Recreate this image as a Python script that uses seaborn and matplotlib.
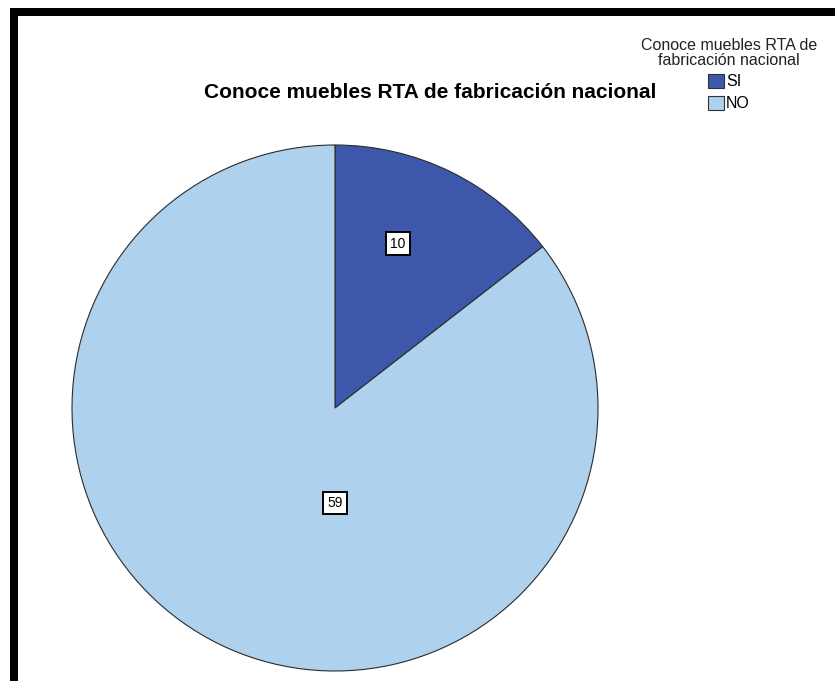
import matplotlib
matplotlib.use("Agg")
import matplotlib.pyplot as plt
import seaborn as sns
from matplotlib.patches import Rectangle, Patch

sns.set_theme(style="white")
plt.rcParams['font.family'] = ['Liberation Sans', 'DejaVu Sans']

categories = ["SI", "NO"]
values = [10, 59]
colors = ["#3D57AB", "#AED1EE"]
title = "Conoce muebles RTA de fabricación nacional"
legend_title = "Conoce muebles RTA de\nfabricación nacional"

W, H = 835, 681
fig = plt.figure(figsize=(W / 100, H / 100), dpi=100)
fig.patch.set_facecolor("white")

cx, cy, r = 335, 408, 263
ax = fig.add_axes([(cx - r) / W, (H - cy - r) / H, 2 * r / W, 2 * r / H])
wedges, _ = ax.pie(values, colors=colors, startangle=90, counterclock=False,
                   radius=1.0,
                   wedgeprops=dict(edgecolor="#2b2b2b", linewidth=0.8))
ax.set_xlim(-1, 1)
ax.set_ylim(-1, 1)
ax.set_aspect("equal")
ax.axis("off")

label_pos = [(0.24, 0.625), (0.0, -0.36)]
for (x, y), v in zip(label_pos, values):
    ax.text(x, y, str(v), ha="center", va="center", fontsize=10, color="black",
            bbox=dict(boxstyle="square,pad=0.3", facecolor="white",
                      edgecolor="black", linewidth=1.4))

fig.text(430 / W, 1 - 93 / H, title, ha="center", va="center",
         fontsize=15, fontweight="bold", color="black")

handles = [Patch(facecolor=c, edgecolor="#333333", linewidth=0.8) for c in colors]
leg = fig.legend(handles, categories, title=legend_title,
                 loc="upper center", bbox_to_anchor=(729 / W, 1 - 30 / H),
                 frameon=False, fontsize=11.5, title_fontsize=11.5,
                 handlelength=0.95, handleheight=1.0, handletextpad=0.15,
                 labelspacing=0.4, borderpad=0.0)
leg._legend_box.align = "center"
leg._legend_box.sep = 4
for t in leg.get_texts():
    t.set_color("black")
leg.get_title().set_color("#222222")
leg.get_title().set_multialignment("center")
leg.get_title().set_linespacing(1.0)

# black frame on left and top
fig.patches.append(Rectangle((10 / W, 0), 8 / W, 1 - 8 / H, transform=fig.transFigure,
                             facecolor="black", edgecolor="none", zorder=10))
fig.patches.append(Rectangle((10 / W, 1 - 16 / H), 1 - 10 / W, 8 / H,
                             transform=fig.transFigure,
                             facecolor="black", edgecolor="none", zorder=10))

fig.savefig("out.png", dpi=100, facecolor="white")
